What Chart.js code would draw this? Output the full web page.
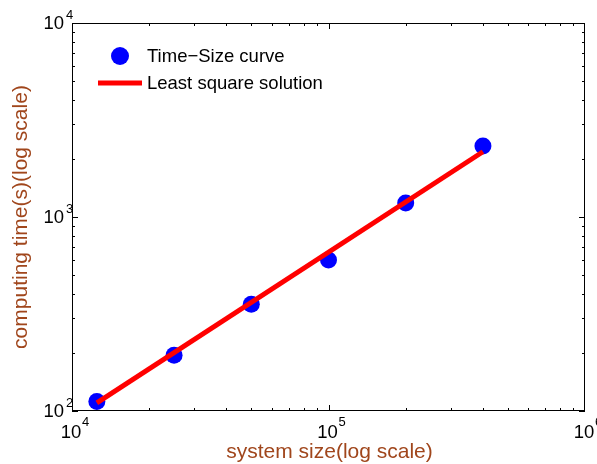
<!DOCTYPE html>
<html lang="en">
<head>
    <meta charset="UTF-8">
    <title>Computing time vs system size</title>
    <script src="https://cdn.jsdelivr.net/npm/chart.js@4.4.2/dist/chart.umd.min.js"></script>
    <style>
        html, body { margin: 0; padding: 0; background: #fff; }
        #wrap { width: 597px; height: 464px; position: relative; }
    </style>
</head>
<body>
    <div id="wrap"><canvas id="timeChart"></canvas></div>

    <script>
    // --- measured data ---
    const sizes = [12500, 25000, 50000, 100000, 200000, 400000];
    const times = [112, 194, 355, 600, 1180, 2320];

    // least square fit endpoints
    const fitSizes = [12500, 400000];
    const fitTimes = [110, 2170];

    // decade tick exponents
    const xExponents = [4, 5, 6];
    const yExponents = [2, 3, 4];

    const seriesLabels = ['Time\u2212Size curve', 'Least square solution'];
    const titleColor = '#a0461c';
    const fontFamily = '"Liberation Sans", Arial, sans-serif';

    // box, inward ticks, 10^n labels, titles and legend
    const decorations = {
        id: 'decorations',
        afterDraw(chart) {
            const ctx = chart.ctx;
            const area = chart.chartArea;
            const xs = chart.scales.x, ys = chart.scales.y;
            ctx.save();
            ctx.strokeStyle = '#000';
            ctx.lineWidth = 1;
            ctx.strokeRect(area.left + 0.5, area.top + 0.5, area.right - area.left - 1, area.bottom - area.top - 1);

            const tick = (x1, y1, x2, y2) => {
                ctx.beginPath();
                ctx.moveTo(x1, y1);
                ctx.lineTo(x2, y2);
                ctx.stroke();
            };
            // x ticks (bottom and top)
            for (let e = xExponents[0]; e < xExponents[xExponents.length - 1]; e++) {
                for (let m = 1; m <= 9; m++) {
                    const px = Math.round(xs.getPixelForValue(m * Math.pow(10, e))) + 0.5;
                    const len = m === 1 ? 6 : 3;
                    tick(px, area.bottom, px, area.bottom - len);
                    tick(px, area.top, px, area.top + len);
                }
            }
            // y ticks (left and right)
            for (let e = yExponents[0]; e < yExponents[yExponents.length - 1]; e++) {
                for (let m = 1; m <= 9; m++) {
                    const py = Math.round(ys.getPixelForValue(m * Math.pow(10, e))) + 0.5;
                    const len = m === 1 ? 6 : 3;
                    tick(area.left, py, area.left + len, py);
                    tick(area.right, py, area.right - len, py);
                }
            }

            // tick labels as 10 with a raised exponent
            ctx.fillStyle = '#000';
            ctx.textBaseline = 'middle';
            xExponents.forEach(e => {
                const px = xs.getPixelForValue(Math.pow(10, e));
                ctx.font = '18.5px ' + fontFamily;
                ctx.textAlign = 'center';
                ctx.fillText('10', px - 1, 433);
                ctx.font = '13px ' + fontFamily;
                ctx.textAlign = 'left';
                ctx.fillText(String(e), px + 10, 422);
            });
            yExponents.forEach(e => {
                const py = ys.getPixelForValue(Math.pow(10, e));
                ctx.font = '18.5px ' + fontFamily;
                ctx.textAlign = 'right';
                ctx.fillText('10', 64, py + 1);
                ctx.font = '13px ' + fontFamily;
                ctx.textAlign = 'left';
                ctx.fillText(String(e), 66, py - 8);
            });

            // axis titles
            ctx.fillStyle = titleColor;
            ctx.font = '21px ' + fontFamily;
            ctx.textAlign = 'center';
            ctx.fillText('system size(log scale)', (area.left + area.right) / 2 + 1, 452);
            ctx.save();
            ctx.translate(21, (area.top + area.bottom) / 2);
            ctx.rotate(-Math.PI / 2);
            ctx.fillText('computing time(s)(log scale)', 0, 0);
            ctx.restore();

            // legend
            const pts = chart.data.datasets[1];
            const fit = chart.data.datasets[0];
            ctx.fillStyle = pts.backgroundColor;
            ctx.beginPath();
            ctx.arc(120, 56, 9, 0, Math.PI * 2);
            ctx.fill();
            ctx.strokeStyle = fit.borderColor;
            ctx.lineWidth = fit.borderWidth;
            tick(98, 83, 142, 83);
            ctx.fillStyle = '#000';
            ctx.font = '18.5px ' + fontFamily;
            ctx.textAlign = 'left';
            ctx.fillText(pts.label, 147, 57);
            ctx.fillText(fit.label, 147, 84);
            ctx.restore();
        }
    };

    document.addEventListener('DOMContentLoaded', function () {
        const ctx = document.getElementById('timeChart').getContext('2d');
        new Chart(ctx, {
            type: 'scatter',
            data: {
                datasets: [
                    {
                        label: seriesLabels[1],
                        data: fitSizes.map((x, i) => ({ x: x, y: fitTimes[i] })),
                        showLine: true,
                        borderColor: '#ff0000',
                        backgroundColor: '#ff0000',
                        borderWidth: 5,
                        pointRadius: 0,
                        order: 0
                    },
                    {
                        label: seriesLabels[0],
                        data: sizes.map((x, i) => ({ x: x, y: times[i] })),
                        showLine: false,
                        backgroundColor: '#0000ff',
                        borderColor: '#0000ff',
                        pointRadius: 8.5,
                        pointBorderWidth: 0,
                        order: 1
                    }
                ]
            },
            options: {
                responsive: true,
                maintainAspectRatio: false,
                animation: false,
                layout: { padding: { left: 72, right: 12, top: 23, bottom: 53 } },
                scales: {
                    x: {
                        type: 'logarithmic',
                        min: Math.pow(10, xExponents[0]),
                        max: Math.pow(10, xExponents[xExponents.length - 1]),
                        grid: { display: false, drawTicks: false },
                        border: { display: false },
                        ticks: { display: false }
                    },
                    y: {
                        type: 'logarithmic',
                        min: Math.pow(10, yExponents[0]),
                        max: Math.pow(10, yExponents[yExponents.length - 1]),
                        grid: { display: false, drawTicks: false },
                        border: { display: false },
                        ticks: { display: false }
                    }
                },
                plugins: {
                    legend: { display: false },
                    tooltip: { enabled: false }
                }
            },
            plugins: [decorations]
        });
    });
    </script>
</body>
</html>
